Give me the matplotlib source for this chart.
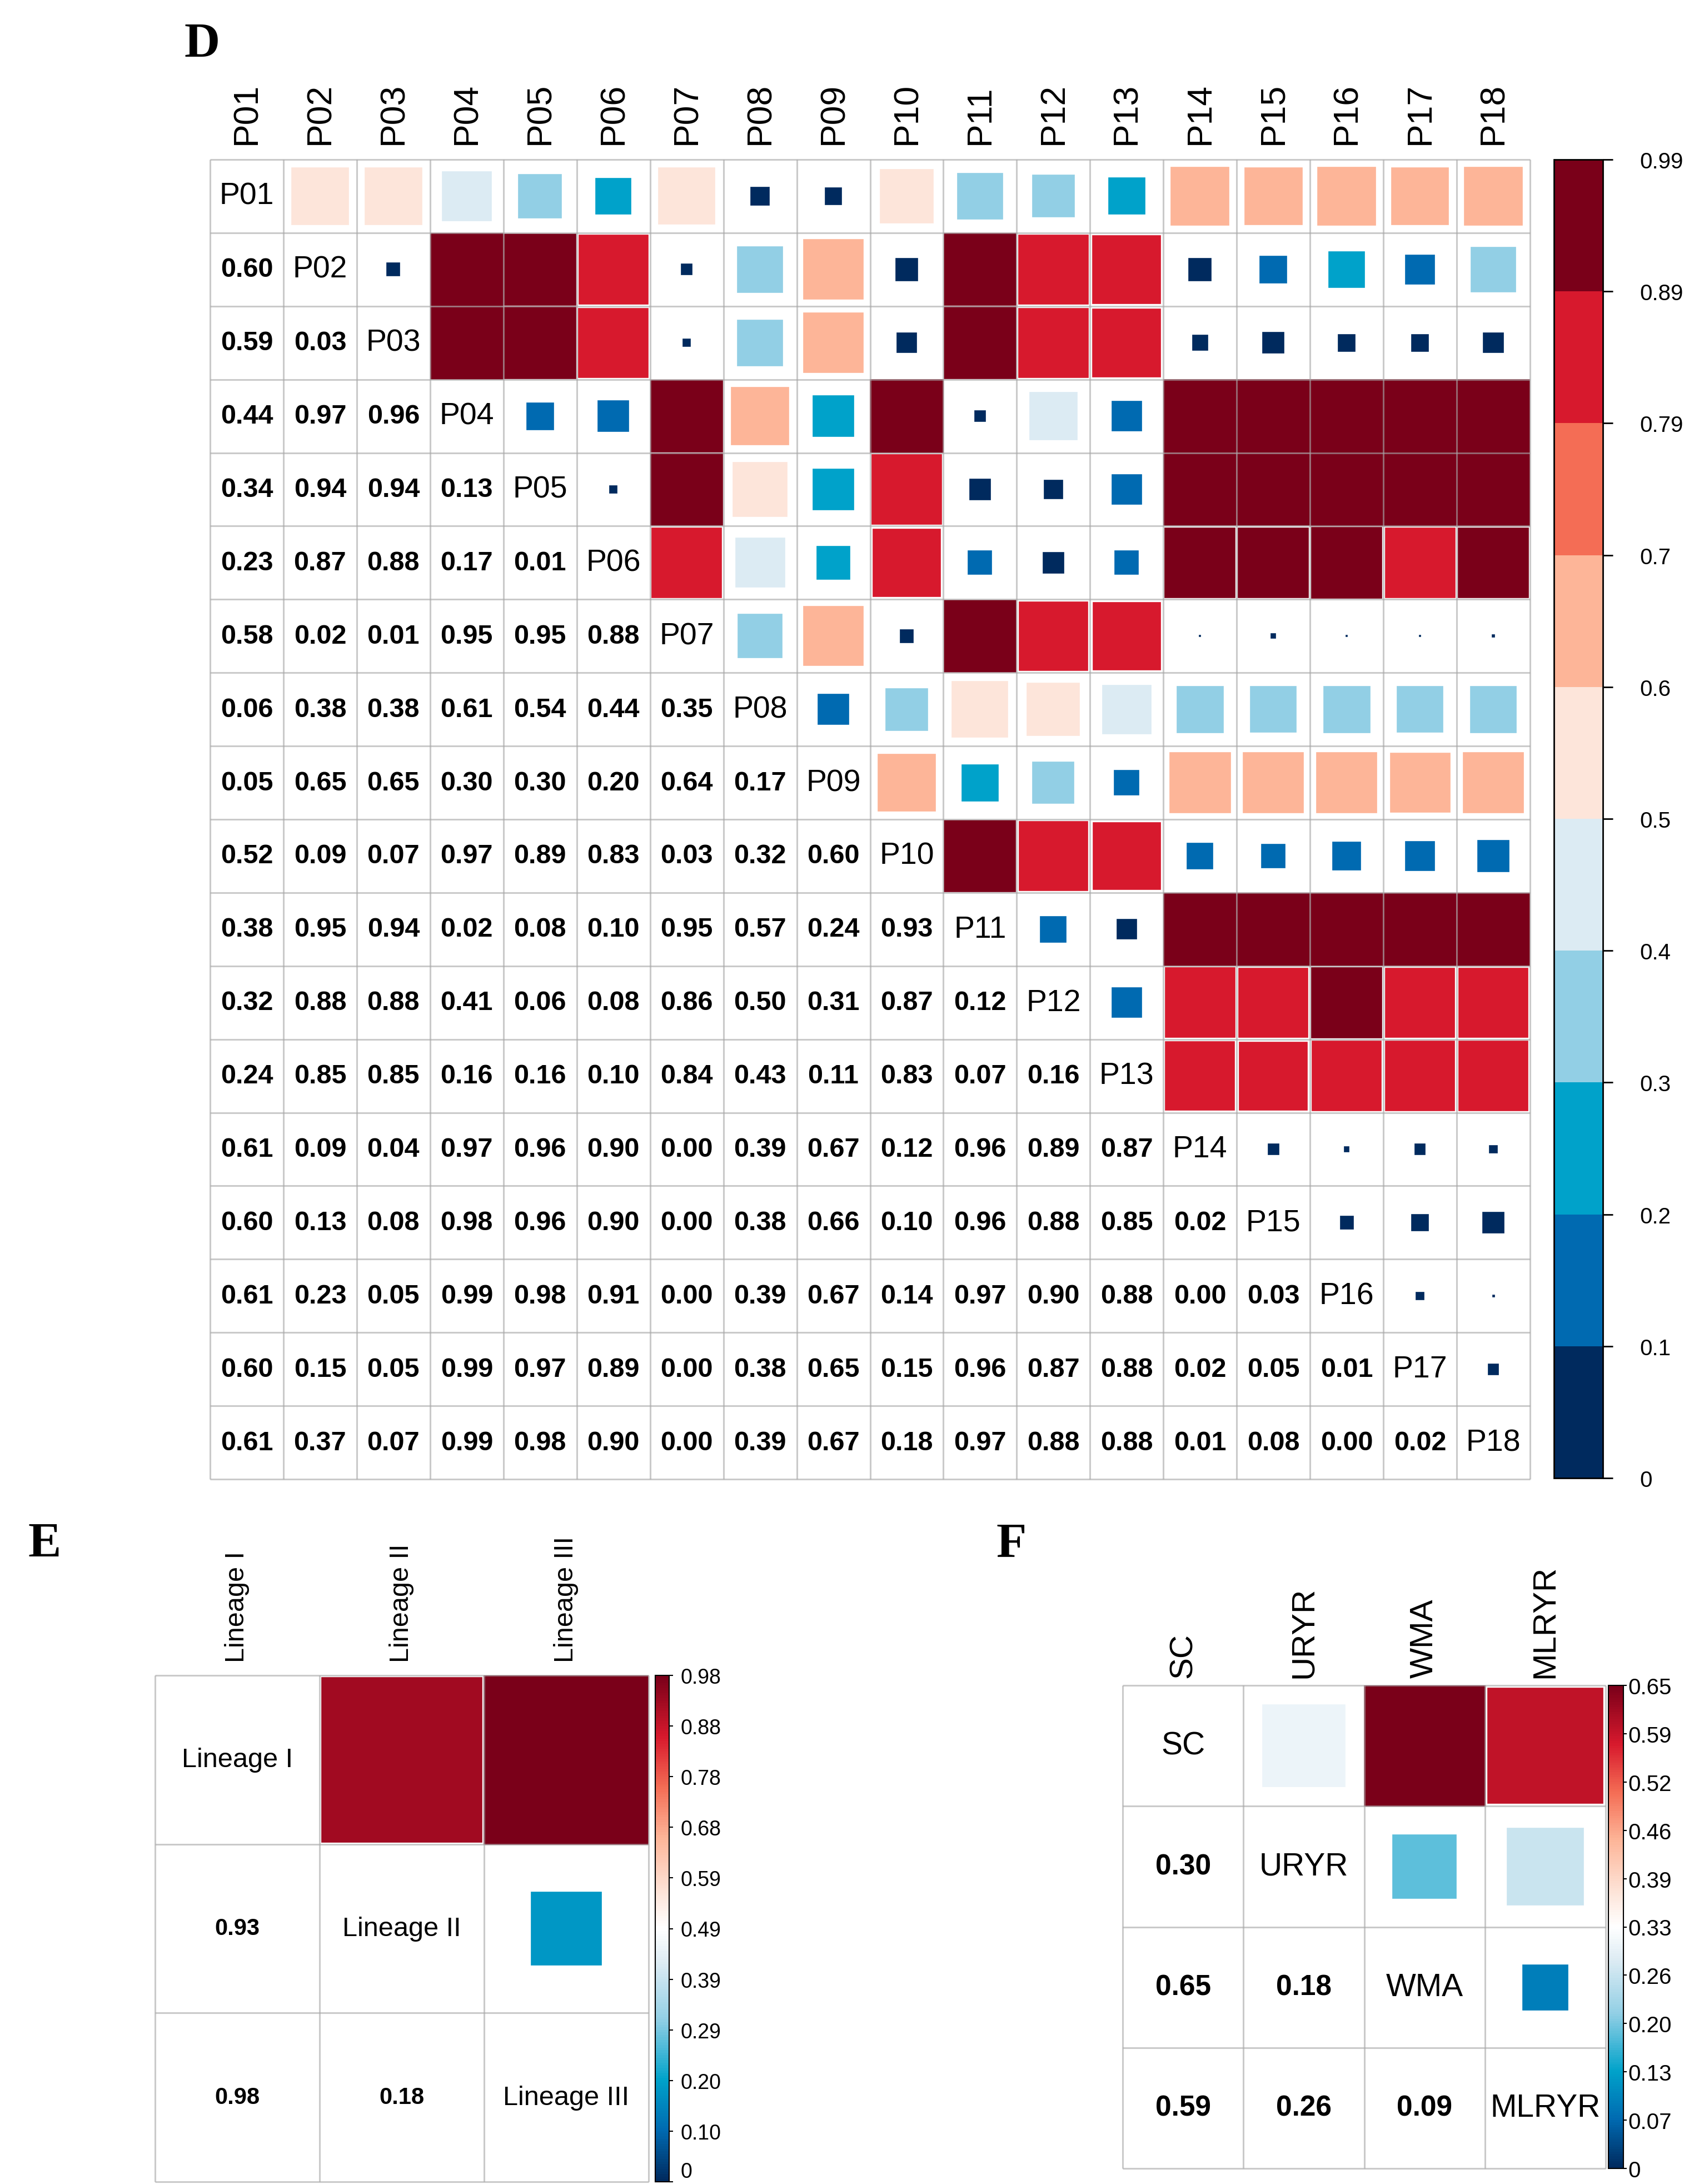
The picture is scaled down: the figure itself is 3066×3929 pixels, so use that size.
import numpy as np
import matplotlib
matplotlib.use('Agg')
import matplotlib.pyplot as plt
from matplotlib.colors import ListedColormap, LinearSegmentedColormap, BoundaryNorm, Normalize
from matplotlib.cm import ScalarMappable
from matplotlib.patches import Rectangle

plt.rcParams['font.family'] = ['Liberation Sans', 'DejaVu Sans']

# ---- data ----
D_LABELS = ['P01', 'P02', 'P03', 'P04', 'P05', 'P06', 'P07', 'P08', 'P09',
            'P10', 'P11', 'P12', 'P13', 'P14', 'P15', 'P16', 'P17', 'P18']
# lower triangle, row i holds values for columns 0..i-1
D_LOWER = [
    [0.598],
    [0.59, 0.03],
    [0.44, 0.97, 0.96],
    [0.34, 0.94, 0.94, 0.13],
    [0.23, 0.87, 0.88, 0.17, 0.01],
    [0.58, 0.02, 0.01, 0.95, 0.95, 0.88],
    [0.06, 0.38, 0.38, 0.61, 0.54, 0.44, 0.35],
    [0.05, 0.65, 0.65, 0.298, 0.298, 0.20, 0.64, 0.17],
    [0.52, 0.09, 0.07, 0.97, 0.888, 0.83, 0.03, 0.32, 0.60],
    [0.38, 0.95, 0.94, 0.02, 0.08, 0.10, 0.95, 0.57, 0.24, 0.93],
    [0.32, 0.88, 0.88, 0.41, 0.06, 0.08, 0.86, 0.50, 0.31, 0.87, 0.12],
    [0.24, 0.85, 0.85, 0.16, 0.16, 0.10, 0.84, 0.43, 0.11, 0.83, 0.07, 0.16],
    [0.61, 0.09, 0.04, 0.97, 0.96, 0.90, 0.0003, 0.39, 0.67, 0.12, 0.96, 0.888, 0.87],
    [0.60, 0.13, 0.08, 0.98, 0.96, 0.90, 0.004, 0.38, 0.66, 0.10, 0.96, 0.88, 0.85, 0.02],
    [0.61, 0.23, 0.05, 0.99, 0.98, 0.91, 0.0002, 0.39, 0.67, 0.14, 0.97, 0.90, 0.88, 0.004, 0.03],
    [0.60, 0.15, 0.05, 0.99, 0.97, 0.888, 0.0002, 0.38, 0.65, 0.15, 0.96, 0.87, 0.88, 0.02, 0.05, 0.01],
    [0.61, 0.37, 0.07, 0.99, 0.98, 0.90, 0.001, 0.39, 0.67, 0.18, 0.97, 0.88, 0.88, 0.01, 0.08, 0.0005, 0.02],
]
D_CBAR_LABELS = ['0', '0.1', '0.2', '0.3', '0.4', '0.5', '0.6', '0.7', '0.79', '0.89', '0.99']

E_LABELS = ['Lineage I', 'Lineage II', 'Lineage III']
E_LOWER = [[0.93], [0.98, 0.18]]
E_CBAR_LABELS = ['0', '0.10', '0.20', '0.29', '0.39', '0.49', '0.59', '0.68', '0.78', '0.88', '0.98']

F_LABELS = ['SC', 'URYR', 'WMA', 'MLRYR']
F_LOWER = [[0.30], [0.65, 0.18], [0.59, 0.26, 0.09]]
F_CBAR_LABELS = ['0', '0.07', '0.13', '0.20', '0.26', '0.33', '0.39', '0.46', '0.52', '0.59', '0.65']

PALETTE = ['#002A5E', '#006AB1', '#00A2CA', '#92CFE5', '#DCEBF3',
           '#FDE5DA', '#FDB598', '#F46D55', '#D7192D', '#7A0019']
# anchor points of the continuous ramp used in E and F
RAMP_POS = [0.0, 0.1, 0.2, 0.32, 0.43, 0.5, 0.57, 0.68, 0.78, 0.88, 1.0]

W, H = 3066, 3930


def box(x0, y0, x1, y1):
    return [x0 / W, 1 - y1 / H, (x1 - x0) / W, (y1 - y0) / H]


def draw_corr(ax, labels, lower, vmax, cmap, norm, diag_fs, num_fs, col_fs,
              col_gap, col_family=None):
    n = len(labels)
    mat = np.zeros((n, n))
    for i, row in enumerate(lower, start=1):
        mat[i, :i] = row
        mat[:i, i] = row
    ax.set_xlim(0, n)
    ax.set_ylim(n, 0)
    ax.axis('off')
    for i in range(n):
        for j in range(n):
            v = mat[i, j]
            if j > i:
                s = np.sqrt(v / vmax)
                ax.add_patch(Rectangle((j + 0.5 - s / 2, i + 0.5 - s / 2), s, s,
                                       facecolor=cmap(norm(v)), edgecolor=cmap(norm(v)),
                                       lw=1.2, zorder=2))
            elif j < i:
                ax.text(j + 0.5, i + 0.5, f'{v:.2f}', ha='center', va='center',
                        fontsize=num_fs, fontweight='bold', color='black')
            else:
                ax.text(j + 0.5, i + 0.5, labels[i], ha='center', va='center',
                        fontsize=diag_fs, color='black')
        kw = {}
        if col_family:
            kw['family'] = col_family
        ax.text(i + 0.5, -col_gap, labels[i], rotation=90, ha='center',
                va='bottom', fontsize=col_fs, color='black', **kw)
    for k in range(n + 1):
        ax.plot([0, n], [k, k], color='#A8A8A8', alpha=0.6, lw=2.2,
                zorder=3, clip_on=False, solid_capstyle='butt')
        ax.plot([k, k], [0, n], color='#A8A8A8', alpha=0.6, lw=2.2,
                zorder=3, clip_on=False, solid_capstyle='butt')


fig = plt.figure(figsize=(W / 100, H / 100), dpi=100)
fig.patch.set_facecolor('white')

# ---- panel D ----
d_cmap = ListedColormap(PALETTE)
d_bounds = [float(s) for s in D_CBAR_LABELS]
d_norm = BoundaryNorm(d_bounds, d_cmap.N)
axD = fig.add_axes(box(378, 288, 2753, 2662))
draw_corr(axD, D_LABELS, D_LOWER, d_bounds[-1], d_cmap, d_norm,
          diag_fs=40, num_fs=35, col_fs=45, col_gap=0.21,
          col_family=['Liberation Sans Narrow', 'Liberation Sans'])
caxD = fig.add_axes(box(2796, 288, 2884, 2660))
cbD = fig.colorbar(ScalarMappable(norm=d_norm, cmap=d_cmap), cax=caxD,
                   ticks=d_bounds, spacing='uniform')
cbD.ax.set_yticklabels(D_CBAR_LABELS)
cbD.ax.tick_params(length=13, width=2, pad=35, labelsize=29)
cbD.outline.set_linewidth(2)

# ---- panel E ----
ramp = PALETTE[:5] + ['#FFFFFF'] + PALETTE[5:]
cont_cmap = LinearSegmentedColormap.from_list('rdbu_cont', list(zip(RAMP_POS, ramp)), N=200)
e_vmax = float(E_CBAR_LABELS[-1])
e_norm = Normalize(0, e_vmax)
axE = fig.add_axes(box(279, 3015, 1167, 3926))
draw_corr(axE, E_LABELS, E_LOWER, e_vmax, cont_cmap, e_norm,
          diag_fs=35, num_fs=30, col_fs=35, col_gap=0.08)
caxE = fig.add_axes(box(1179, 3015, 1204, 3926))
cbE = fig.colorbar(ScalarMappable(norm=e_norm, cmap=cont_cmap), cax=caxE,
                   ticks=np.linspace(0, e_vmax, len(E_CBAR_LABELS)))
cbE.ax.set_yticklabels(E_CBAR_LABELS)
cbE.ax.tick_params(length=5, width=1.5, pad=10, labelsize=27)
cbE.ax.get_yticklabels()[0].set_verticalalignment('bottom')
cbE.outline.set_linewidth(1.5)

# ---- panel F ----
f_vmax = float(F_CBAR_LABELS[-1])
f_norm = Normalize(0, f_vmax)
axF = fig.add_axes(box(2020, 3033, 2889, 3902))
draw_corr(axF, F_LABELS, F_LOWER, f_vmax, cont_cmap, f_norm,
          diag_fs=41, num_fs=37, col_fs=42, col_gap=0.065)
caxF = fig.add_axes(box(2894, 3033, 2921, 3902))
cbF = fig.colorbar(ScalarMappable(norm=f_norm, cmap=cont_cmap), cax=caxF,
                   ticks=np.linspace(0, f_vmax, len(F_CBAR_LABELS)))
cbF.ax.set_yticklabels(F_CBAR_LABELS)
cbF.ax.tick_params(length=4, width=1.5, pad=2, labelsize=29)
cbF.outline.set_linewidth(1.5)

# ---- panel letters ----
for letter, x, y in [('D', 331, 102), ('E', 50, 2800), ('F', 1792, 2800)]:
    fig.text(x / W, 1 - y / H, letter, ha='left', va='baseline', fontsize=64,
             fontweight='bold', family=['Liberation Serif', 'DejaVu Serif'])

fig.savefig('out.png', dpi=100, facecolor='white')
